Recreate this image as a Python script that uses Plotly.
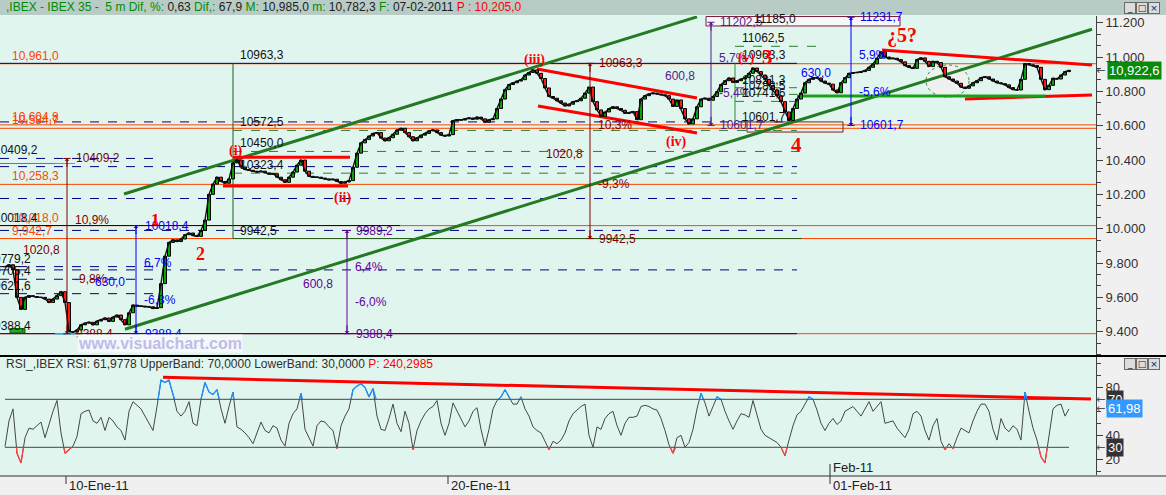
import numpy as np
import plotly.graph_objects as go

# ---------------- data ----------------
close = [
    9779, 9790, 9760, 9600, 9530, 9600, 9610, 9605, 9600, 9600,
    9590, 9570, 9590, 9610, 9633, 9570, 9400, 9398, 9410, 9440,
    9450, 9455, 9440, 9462, 9470, 9480, 9460, 9485, 9497, 9470,
    9440, 9510, 9555, 9550, 9548, 9545, 9545, 9535, 9540, 9680,
    9840, 9920, 9935, 9925, 9940, 9965, 9975, 9960, 9955, 9990,
    10050, 10200, 10260, 10300, 10275, 10265, 10290, 10383, 10400, 10360,
    10345, 10340, 10335, 10330, 10335, 10325, 10318, 10320, 10300, 10285,
    10270, 10300, 10330, 10370, 10400, 10335, 10305, 10300, 10300, 10295,
    10290, 10285, 10288, 10275, 10265, 10272, 10280, 10358, 10440, 10500,
    10520, 10540, 10555, 10560, 10528, 10512, 10530, 10550, 10575, 10585,
    10560, 10536, 10512, 10530, 10545, 10555, 10570, 10575, 10560, 10545,
    10540, 10548, 10630, 10635, 10633, 10640, 10645, 10638, 10650, 10640,
    10620, 10635, 10640, 10700, 10755, 10810, 10840, 10850, 10860, 10868,
    10895, 10910, 10925, 10905, 10875, 10820, 10770, 10760, 10745, 10732,
    10715, 10725, 10740, 10745, 10760, 10790, 10825, 10740, 10692, 10655,
    10680, 10700, 10710, 10700, 10690, 10672, 10675, 10682, 10635, 10755,
    10775, 10785, 10790, 10785, 10780, 10775, 10755, 10712, 10750, 10700,
    10640, 10610, 10640, 10710, 10755, 10760, 10748, 10770, 10798, 10840,
    10862, 10878, 10852, 10862, 10872, 10880, 10905, 10936, 10915, 10895,
    10870, 10835, 10808, 10775, 10740, 10680, 10630, 10700, 10755, 10790,
    10850, 10870, 10880, 10878, 10860, 10848, 10842, 10808, 10792, 10850,
    10880, 10905, 10908, 10910, 10915, 10922, 10940, 10960, 10993, 11030,
    11000, 10990, 10993, 10985, 10972, 10950, 10940, 10934, 10985, 10995,
    10975, 10945, 10975, 10968, 10940, 10885, 10872, 10860, 10847, 10825,
    10818, 10832, 10850, 10862, 10880, 10885, 10872, 10860, 10850, 10845,
    10838, 10822, 10810, 10808, 10870, 10962, 10955, 10950, 10940, 10870,
    10810, 10835, 10876, 10872, 10895, 10915, 10922.6,
]
rsi = [
    30.6, 52, 62, 25, 17, 38, 46, 45, 48, 51,
    38, 50, 60, 69, 42, 25, 28, 31, 39, 58,
    60, 61, 52, 50, 55, 44, 55, 52, 47, 44,
    36, 60, 68, 65, 62, 56, 50, 44, 64, 86,
    84, 86, 74, 60, 56, 60, 68, 50, 48, 70,
    84, 76, 74, 78, 62, 50, 64, 76, 47, 45,
    42, 38, 33, 42, 51, 44, 42, 48, 46, 36,
    31, 50, 58, 62, 75, 45, 38, 31, 48, 52,
    51, 47, 44, 29, 48, 56, 62, 78, 81, 83,
    80, 72, 79, 56, 45, 44, 54, 66, 50, 43,
    60, 50, 28, 44, 52, 58, 62, 64, 69, 50,
    40, 50, 67, 60, 54, 47, 52, 60, 63, 45,
    31, 45, 62, 69, 72, 78, 72, 66, 66, 72,
    62, 56, 47, 44, 42, 35, 28, 35, 33, 36,
    42, 52, 58, 61, 64, 66, 40, 30, 47, 45,
    54, 58, 60, 48, 40, 50, 55, 55, 56, 64,
    65, 64, 62, 61, 54, 44, 32, 25, 38, 40,
    30, 34, 45, 62, 75, 67, 56, 64, 72, 70,
    60, 52, 45, 52, 58, 57, 55, 69, 58, 45,
    40, 38, 36, 34, 30, 23, 36, 48, 57, 60,
    66, 72, 70, 61, 50, 44, 50, 54, 49, 52,
    60, 62, 64, 60, 56, 62, 68, 60, 64, 68,
    50, 51, 52, 46, 42, 38, 45, 58, 60, 56,
    44, 36, 48, 54, 35, 28, 33, 29, 38, 46,
    44, 42, 52, 60, 66, 66, 60, 45, 36, 54,
    46, 43, 48, 45, 36, 76, 60, 46, 36, 22,
    17, 40, 62, 65, 66, 56, 61.9778,
]

date_ticks = [15.25, 110.75, 206.25]          # bar index of session starts
date_labels = ["10-Ene-11", "20-Ene-11", "01-Feb-11"]
month_label = "Feb-11"
price_ticks = [9400, 9600, 9800, 10000, 10200, 10400, 10600, 10800, 11000, 11200]
rsi_ticks = [20, 40, 80]
rsi_upper, rsi_lower = 70, 30

header_vals = {"pct": "0,63", "dif": "67,9", "max": "10,985,0", "min": "10,782,3",
               "date": "07-02-2011", "p": "10,205,0"}
rsi_p = "240,2985"

orange_levels = [10961.0, 10604.8, 10584.7, 10258.3, 10018.0, 9942.7, 9388.4]
navy_solid_levels = [10963.3, 10018.4, 9388.4]
navy_long_levels = [10622.0, 10361.7, 10175.9, 9990.0, 9760.0]
navy_short_levels = [10409.2, 9779.2, 9705.4, 9621.6]
edge_label_levels = [10409.2, 10018.4, 9779.2, 9705.4, 9621.6, 9388.4]
fib_box_levels = [10963.3, 10572.5, 10450.0, 10323.4, 9942.5]
fib_box_dashed = [10572.5, 10450.0, 10323.4]
wave3_levels = [11062.5, 10963.3, 10821.3, 10782.5, 10741.6, 10601.7]
wave3_dashed = [10821.3, 10782.5, 10741.6]
wave3_ext = 11062.5
box_note = 11185.0

measure_t = [15.5, 32.75, 85.5, 146.25, 176.5, 211.5]
measure_hi = [10409.2, 10018.4, 9989.2, 10963.3, 11202.5, 11231.7]
measure_lo = [9388.4, 9388.4, 9388.4, 9942.5, 10601.7, 10601.7]

wave_text = ["1", "2", "(i)", "(ii)", "(iii)", "(iv)", "(v)", "3", "4", "¿5?"]
wave_t = [37.5, 48.75, 57.75, 84.25, 132.25, 167.75, 185.25, 190.5, 197.75, 224.25]
wave_p = [10051, 9853, 10453, 10179, 10983, 10505, 10994, 11000, 10488, 11123]

# analyst drawings: (t0, p0, t1, p1)
channel_lines = [(29.75, 10202, 173.0, 11234), (30.0, 9414, 271.75, 11161.5)]
red_lines = [(57, 10416, 86.25, 10416), (54.5, 10249, 85.75, 10249),
             (133, 10930, 173, 10761), (133.25, 10715, 173, 10557),
             (219.25, 11041, 271.75, 10954), (240, 10756, 271.75, 10779)]
green_support = (198, 10773, 260, 10773)
rsi_trend = (39.5, 88.3, 271.5, 70.3)

# ---------------- styles / layout constants ----------------
W, H = 1166, 495
PR = 1096.0                      # px of plot right edge
X_RANGE = [-1.25, 272.75]
FONT = "Liberation Sans"
ORANGE = "#FF4500"
NAVY = "#000080"
DKGREEN = "#237A23"
meas_color = ["#800000", "#0000FF", "#660099", "#800000", "#551A8B", "#0000FF"]
meas_diff_shift = [-5, -9, -12, -5, -14, -18]
wave_size = [17, 18, 14, 14, 14, 14, 14, 21, 21, 20]


def py(y):
    return 1 - y / H


def pxx(x):
    return x / PR


def f_plain(v):
    return f"{v:.1f}".replace(".", ",")


def f_thou(v):
    return f"{v:,.1f}".replace(".", ",")


def f_pct(v):
    return f"{v:.1f}%".replace(".", ",")


fig = go.Figure()
n = len(close)
bars = np.arange(n)
opens = [close[0]] + close[:-1]
highs = [max(o, c) for o, c in zip(opens, close)]
lows = [min(o, c) for o, c in zip(opens, close)]

fig.add_trace(go.Scatter(x=bars, y=close, mode="lines", line=dict(color="#111111", width=1.4),
                         xaxis="x", yaxis="y", hoverinfo="skip"))
fig.add_trace(go.Candlestick(x=bars, open=opens, high=highs, low=lows, close=close,
                             increasing=dict(line=dict(color="#000000", width=1), fillcolor="#00A800"),
                             decreasing=dict(line=dict(color="#000000", width=1), fillcolor="#FF1A1A"),
                             whiskerwidth=0, xaxis="x", yaxis="y", hoverinfo="skip"))

rb = np.arange(len(rsi))
fig.add_trace(go.Scatter(x=rb, y=rsi, mode="lines", line=dict(color="#464646", width=1),
                         xaxis="x2", yaxis="y2", hoverinfo="skip"))
fig.add_trace(go.Scatter(x=rb, y=rsi, mode="lines", line=dict(color="#1E8FFF", width=1.3),
                         xaxis="x2", yaxis="y3", hoverinfo="skip"))
fig.add_trace(go.Scatter(x=rb, y=rsi, mode="lines", line=dict(color="#FF4040", width=1.3),
                         xaxis="x2", yaxis="y4", hoverinfo="skip"))

shapes = []
ann = []


def line(x0, y0, x1, y1, color, width=1, dash="solid", xref="x", yref="y", layer="below"):
    shapes.append(dict(type="line", x0=x0, y0=y0, x1=x1, y1=y1, xref=xref, yref=yref,
                       line=dict(color=color, width=width, dash=dash), layer=layer))


def text(x, y, s, color="#000000", size=12, xanchor="left", yanchor="middle", xref="x", yref="y",
         xshift=0, yshift=0, family=FONT, **kw):
    ann.append(dict(x=x, y=y, text=s, xref=xref, yref=yref, showarrow=False, xanchor=xanchor,
                    yanchor=yanchor, xshift=xshift, yshift=yshift,
                    font=dict(family=family, size=size, color=color), **kw))


# backgrounds
P_TOP, P_BOT, R_TOP, R_BOT = 16, 355, 357, 475
shapes.append(dict(type="rect", xref="paper", yref="paper", x0=0, x1=W / PR, y0=py(15), y1=1,
                   fillcolor="#B8CBC5", line=dict(width=0), layer="below"))
for a, b in [(P_TOP, P_BOT), (R_TOP, R_BOT)]:
    shapes.append(dict(type="rect", xref="paper", yref="paper", x0=0, x1=1, y0=py(b), y1=py(a),
                       fillcolor="#E1F5EF", line=dict(width=0), layer="below"))

# ellipse
shapes.append(dict(type="circle", xref="x", yref="y", x0=230.25, x1=241, y0=10767, y1=10954,
                   fillcolor="#EEF1EF", line=dict(color="#2E8B2E", width=1, dash="dot"), layer="below"))

# horizontal levels
for lv in orange_levels:
    line(0, lv, 1, lv, ORANGE, 1, xref="paper")
line(X_RANGE[0], navy_solid_levels[0], 198, navy_solid_levels[0], NAVY, 1)
line(X_RANGE[0], navy_solid_levels[1], 98.75, navy_solid_levels[1], NAVY, 1)
line(X_RANGE[0], navy_solid_levels[2], 198, navy_solid_levels[2], NAVY, 1)
for lv in navy_long_levels:
    line(X_RANGE[0], lv, 198, lv, NAVY, 1, "dash")
for lv in navy_short_levels:
    line(X_RANGE[0], lv, 37.5, lv, NAVY, 1, "dash")
for lv in fib_box_dashed:
    line(57, lv, 198, lv, "#2E7D2E", 1, "dash")
line(57, fib_box_levels[-1], 199.25, fib_box_levels[-1], "#1F5F1F", 1)
line(57, fib_box_levels[0], 57, fib_box_levels[-1], "#1F5F1F", 1)
line(182.5, wave3_ext, 204.25, wave3_ext, "#2E7D2E", 1, "dash")
for lv in wave3_dashed:
    line(182.5, lv, 198, lv, "#2E7D2E", 1, "dash")
line(182.5, wave3_levels[1], 182.5, wave3_levels[-1], "#2E8B2E", 1)

# cyan marks & small green block
line(X_RANGE[0], 10380, 12.5, 10380, "#2A8AD0", 1)
line(12.5, 10380, 17.5, 10380, "#00C0FF", 1)
line(12.5, 9388.4, 17.5, 9388.4, "#00C0FF", 1.5)
shapes.append(dict(type="rect", xref="x", yref="y", x0=1.25, x1=5, y0=9393, y1=9418,
                   fillcolor="#28A828", line=dict(color="#006000", width=1), layer="below"))

# boxes
shapes.append(dict(type="rect", xref="x", yref="y", x0=175.25, x1=223.75, y0=11181, y1=11236,
                   fillcolor="#F7F7F7", line=dict(color="#7A1F3D", width=1), layer="below"))
shapes.append(dict(type="rect", xref="x", yref="y", x0=185.5, x1=209.5, y0=10563, y1=10622,
                   fillcolor="rgba(0,0,0,0)", line=dict(color="#7A1F1F", width=1), layer="below"))

# trend lines
for (a, b, c, d) in channel_lines:
    line(a, b, c, d, DKGREEN, 3)
for (a, b, c, d) in red_lines:
    line(a, b, c, d, "#FF0000", 3)
g = green_support
line(g[0], g[1], g[2], g[3], "#18A018", 3)

# RSI bands & trend
line(0, rsi_upper, len(rsi) - 1, rsi_upper, "#444444", 1, xref="x2", yref="y2")
line(0, rsi_lower, len(rsi) - 1, rsi_lower, "#444444", 1, xref="x2", yref="y2")
line(rsi_trend[0], rsi_trend[1], rsi_trend[2], rsi_trend[3], "#FF0000", 3, xref="x2", yref="y2")

# frame lines
line(0, py(356), W / PR, py(356), "#000000", 2, xref="paper", yref="paper", layer="above")
line(0, py(476), W / PR, py(476), "#303030", 1, xref="paper", yref="paper", layer="above")

# measuring arrows
for t, hi, lo, col, dsh in zip(measure_t, measure_hi, measure_lo, meas_color, meas_diff_shift):
    d = hi - lo
    line(t, hi, t, lo, col, 1, layer="above")
    line(t - 0.9, hi, t + 0.9, hi, col, 1, layer="above")
    line(t - 0.9, lo, t + 0.9, lo, col, 1, layer="above")
    ann.append(dict(x=t, y=hi, xref="x", yref="y", ax=0, ay=10, text="", showarrow=True,
                    arrowhead=1, arrowsize=0.8, arrowwidth=1, arrowcolor=col, standoff=0))
    ann.append(dict(x=t, y=lo, xref="x", yref="y", ax=0, ay=-10, text="", showarrow=True,
                    arrowhead=1, arrowsize=0.8, arrowwidth=1, arrowcolor=col, standoff=0))
    text(t, hi, f_plain(hi), col, xshift=7)
    text(t, lo, f_plain(lo), col, xshift=7)
    text(t, hi - 0.35 * d, f_pct(d / lo * 100), col, xshift=6)
    text(t, hi - 0.69 * d, "-" + f_pct(d / hi * 100), col, xshift=6)
    text(t, hi - 0.52 * d, f_plain(d), col, xanchor="right", xshift=dsh)

# level labels
for lv in orange_levels[:-1]:
    text(1.25, lv, f_thou(lv), ORANGE, yanchor="bottom", yshift=-1)
for lv in edge_label_levels:
    text(0, lv, f_plain(lv), "#111111", yanchor="bottom", yshift=-1,
         xanchor="right", xshift=(35 if lv >= 10000 else 28))
for lv in fib_box_levels:
    text(58.25, lv, f_plain(lv), "#111111", yanchor="bottom", yshift=-1)
for lv in wave3_levels:
    text(183.75, lv, f_plain(lv), "#111111", yanchor="bottom", yshift=-1)
text(186.75, 11221, f_plain(box_note), "#111111")

# wave labels
for s, t, p, sz in zip(wave_text, wave_t, wave_p, wave_size):
    text(t, p, f"<b>{s}</b>", "#FF0000", size=sz, xanchor="center", family="Liberation Serif")

# watermark
text(38.75, 9331, "<b>www.visualchart.com</b>", "#BDBDE8", size=16, xanchor="center",
     bgcolor="#F6F9FA", borderpad=0)

# last price box
text(pxx(1100), close[-1], "←", "#505050", size=11, xref="paper", xanchor="center", family="DejaVu Sans")
text(pxx(1107), close[-1], f_thou(close[-1]), "#FFFFFF", size=13, xref="paper", xanchor="left",
     bgcolor="#0A8A0A", borderpad=1)

# RSI axis boxes
for val, lab, bg in [(rsi_upper, "70", "#333333"), (rsi[-1], f"{rsi[-1]:.2f}".replace(".", ","), "#3399FF"),
                     (rsi_lower, "30", "#333333")]:
    text(pxx(1100), val, "←", "#505050", size=11, xref="paper", yref="y2", xanchor="center",
         family="DejaVu Sans")
    text(pxx(1106), val, lab, "#FFFFFF", size=13, xref="paper", yref="y2", xanchor="left",
         bgcolor=bg, borderpad=1)

# headers
G = "#008C00"
hdr = (f"<span style='color:{G}'>,IBEX - IBEX 35 -  5 m Dif, %:</span> {header_vals['pct']} "
       f"<span style='color:{G}'>Dif,:</span> {header_vals['dif']} "
       f"<span style='color:{G}'>M:</span> {header_vals['max']} "
       f"<span style='color:{G}'>m:</span> {header_vals['min']} "
       f"<span style='color:{G}'>F:</span> {header_vals['date']} "
       f"<span style='color:#FF0000'>P : {header_vals['p']}</span>")
text(pxx(4), py(7.5), hdr, "#202020", xref="paper", yref="paper")
rhdr = (f"RSI_,IBEX RSI: {f'{rsi[-1]:.4f}'.replace('.', ',')} UpperBand: {rsi_upper},0000 "
        f"LowerBand: {rsi_lower},0000 <span style='color:#FF0000'>P: {rsi_p}</span>")
text(pxx(4), py(363.5), rhdr, "#303030", xref="paper", yref="paper")

# window buttons
for cy in (8, 364):
    for cx, glyph in [(1130, "_"), (1142, "□"), (1154, "×")]:
        text(pxx(cx), py(cy), glyph, "#202020", size=9, xref="paper", yref="paper", xanchor="center",
             family="DejaVu Sans", bgcolor="#DCDCDC", bordercolor="#6A6A6A", borderwidth=1,
             borderpad=0, width=10, height=10)

# date axis labels
for t, lab in zip(date_ticks, date_labels):
    line(t, py(476), t, py(484), "#303030", 1, xref="x2", yref="paper", layer="above")
    text(t, py(485.5), lab, "#202020", size=13, xref="x2", yref="paper", xshift=1)
line(date_ticks[2], py(464), date_ticks[2], py(476), "#303030", 1, xref="x2", yref="paper", layer="above")
text(date_ticks[2], py(467), month_label, "#202020", size=13, xref="x2", yref="paper", xshift=1)

minor_price = [price_ticks[0] + k * 200 / 3 for k in range(-2, 30)]
fig.update_layout(
    width=W, height=H, margin=dict(l=0, r=W - PR, t=0, b=0),
    paper_bgcolor="#F0F0F0", plot_bgcolor="rgba(0,0,0,0)",
    showlegend=False, separators=",.", font=dict(family=FONT, size=12, color="#202020"),
    boxgap=0.25, boxgroupgap=0.0,
    shapes=shapes, annotations=ann,
    xaxis=dict(domain=[0, 1], range=X_RANGE, anchor="y", visible=False,
               rangeslider=dict(visible=False), fixedrange=True),
    xaxis2=dict(domain=[0, 1], range=X_RANGE, anchor="y2", visible=False),
    yaxis=dict(domain=[py(P_BOT), py(P_TOP)], range=[9264.3, 11239.0], anchor="x", side="right",
               tickvals=price_ticks, tickformat=",d", ticks="outside", ticklen=6, tickcolor="#404040",
               showline=True, linecolor="#404040", showgrid=False, zeroline=False,
               tickfont=dict(size=13, color="#303030"),
               minor=dict(tickvals=minor_price, ticks="outside", ticklen=4, tickcolor="#404040",
                          showgrid=False)),
    yaxis2=dict(domain=[py(R_BOT), py(R_TOP)], range=[6.92, 105.25], anchor="x2", side="right",
                tickvals=rsi_ticks, ticks="outside", ticklen=6, tickcolor="#404040",
                showline=True, linecolor="#404040", showgrid=False, zeroline=False,
                tickfont=dict(size=13, color="#303030"),
                minor=dict(tickvals=list(range(10, 101, 10)), ticks="outside", ticklen=4,
                           tickcolor="#404040", showgrid=False)),
    yaxis3=dict(domain=[py(399.3), py(R_TOP)], range=[rsi_upper, 105.25], anchor="x2", visible=False),
    yaxis4=dict(domain=[py(R_BOT), py(447.3)], range=[6.92, rsi_lower], anchor="x2", visible=False),
)

fig.write_html("out.html", config={"displayModeBar": False},
               post_script="document.body.style.margin='0';document.body.style.overflow='hidden';")
